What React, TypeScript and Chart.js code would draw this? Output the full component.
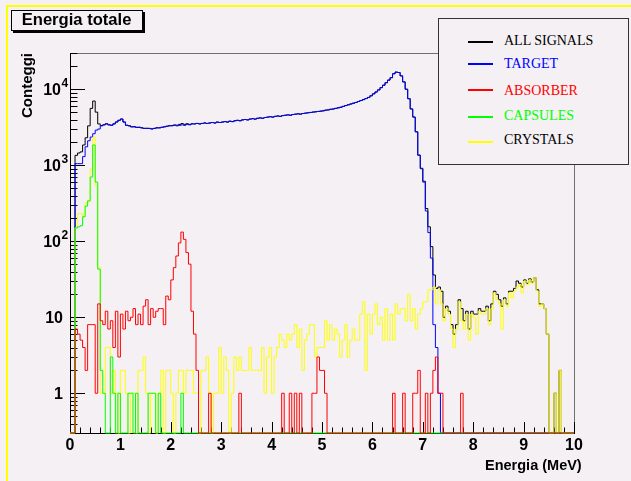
import React, { useEffect, useRef } from 'react';
import { Chart, registerables } from 'chart.js';

Chart.register(...registerables);

// ---- histogram binning (0-10 MeV, 200 bins of 0.05 MeV) ----
const BIN_WIDTH = 0.05;
const X_MIN = 0;
const X_MAX = 10;
const Y_MIN = 0.3;
const Y_MAX = 30000;

// ---- counts per bin ----
const allSignals = [
  0, 0, 1350, 1450, 1500, 1850, 2300, 3300, 5600, 7000, 5000, 3500, 3320, 3410, 3520, 3410, 3365, 3510, 3715, 3905,
  4065, 3710, 3365, 3310, 3210, 3215, 3160, 3165, 3110, 3065, 3070, 3060, 3015, 3060, 3115, 3115, 3165, 3210, 3270, 3320,
  3330, 3395, 3365, 3445, 3535, 3455, 3520, 3450, 3515, 3507, 3553, 3501, 3552, 3602, 3553, 3602, 3650, 3601, 3701, 3655,
  3701, 3753, 3702, 3800, 3751, 3853, 3902, 3854, 3952, 4002, 3952, 4054, 4102, 4052, 4152, 4202, 4154, 4251, 4303, 4354,
  4301, 4403, 4454, 4406, 4506, 4554, 4606, 4556, 4656, 4708, 4754, 4707, 4802, 4855, 4906, 4958, 5009, 5054, 5107, 5156,
  5206, 5310, 5355, 5458, 5505, 5607, 5706, 5803, 5955, 6108, 6253, 6405, 6557, 6705, 6905, 7111, 7316, 7552, 7811, 8206,
  8711, 9215, 9808, 10510, 11305, 12213, 13205, 14211, 16006, 16815, 16611, 15013, 12513, 10009, 7520, 5509, 4314, 2758, 1363, 913,
  616, 270, 155, 85, 36, 24, 25, 22, 10, 14, 12, 8, 6, 8, 17, 13, 9, 12, 7, 12,
  11, 11, 13, 12, 12, 14, 9, 15, 22, 20, 17, 14, 18, 15, 22, 22, 24, 30, 28, 25,
  31, 28, 32, 29, 33, 23, 15, 15, 13, 6, 0, 0, 1, 0, 2, 0, 0, 0, 0, 0,
];

const target = [
  0, 0, 1050, 1050, 1050, 1300, 1750, 2100, 2350, 2600, 2900, 3000, 3300, 3400, 3500, 3400, 3350, 3500, 3700, 3900,
  4050, 3700, 3350, 3300, 3200, 3200, 3150, 3150, 3100, 3050, 3050, 3050, 3000, 3050, 3100, 3100, 3150, 3200, 3250, 3300,
  3300, 3350, 3300, 3350, 3400, 3350, 3450, 3400, 3500, 3500, 3550, 3500, 3550, 3600, 3550, 3600, 3650, 3600, 3700, 3650,
  3700, 3750, 3700, 3800, 3750, 3850, 3900, 3850, 3950, 4000, 3950, 4050, 4100, 4050, 4150, 4200, 4150, 4250, 4300, 4350,
  4300, 4400, 4450, 4400, 4500, 4550, 4600, 4550, 4650, 4700, 4750, 4700, 4800, 4850, 4900, 4950, 5000, 5050, 5100, 5150,
  5200, 5300, 5350, 5450, 5500, 5600, 5700, 5800, 5950, 6100, 6250, 6400, 6550, 6700, 6900, 7100, 7300, 7550, 7800, 8200,
  8700, 9200, 9800, 10500, 11300, 12200, 13200, 14200, 16000, 16800, 16600, 15000, 12500, 10000, 7500, 5500, 4300, 2750, 1350, 900,
  600, 250, 130, 60, 8, 4, 1, 0, 0, 0, 0, 0, 0, 0, 0, 0, 0, 0, 0, 0,
  0, 0, 0, 0, 0, 0, 0, 0, 0, 0, 0, 0, 0, 0, 0, 0, 0, 0, 0, 0,
  0, 0, 0, 0, 0, 0, 0, 0, 0, 0, 0, 0, 0, 0, 0, 0, 0, 0, 0, 0,
];

const absorber = [
  0, 0, 7, 6, 5, 4, 2, 8, 8, 8, 1, 15, 9, 8, 12, 7, 9, 4, 12, 3,
  11, 7, 12, 9, 10, 13, 8, 11, 8, 14, 17, 8, 13, 10, 12, 13, 13, 8, 19, 17,
  31, 45, 64, 95, 132, 106, 71, 50, 12, 6, 2, 0, 0, 0, 0, 1, 0, 0, 0, 0,
  0, 0, 0, 0, 0, 0, 0, 1, 0, 0, 0, 0, 0, 0, 0, 0, 0, 0, 0, 0,
  0, 0, 0, 0, 1, 0, 0, 1, 0, 1, 0, 1, 0, 0, 0, 0, 1, 1, 3, 2,
  2, 1, 0, 0, 0, 0, 0, 0, 0, 0, 0, 0, 0, 0, 0, 0, 0, 0, 0, 0,
  0, 0, 0, 0, 0, 0, 0, 0, 1, 0, 0, 0, 1, 0, 0, 0, 1, 1, 2, 0,
  0, 1, 0, 1, 2, 3, 1, 1, 0, 0, 0, 0, 0, 0, 0, 1, 0, 0, 0, 0,
  0, 0, 0, 0, 0, 0, 0, 0, 0, 0, 0, 0, 0, 0, 0, 0, 0, 0, 0, 0,
  0, 0, 0, 0, 0, 0, 0, 0, 0, 0, 0, 0, 0, 0, 0, 0, 0, 0, 0, 0,
];

const capsules = [
  0, 0, 150, 155, 160, 210, 290, 340, 700, 1850, 600, 43, 2, 1, 0, 0, 3, 1, 0, 1,
  0, 0, 0, 1, 1, 0, 1, 0, 0, 0, 0, 1, 1, 1, 0, 1, 0, 0, 0, 0,
  0, 0, 0, 0, 1, 0, 0, 0, 0, 0, 0, 0, 0, 0, 0, 0, 0, 0, 0, 0,
  0, 0, 0, 0, 0, 0, 0, 0, 0, 0, 0, 0, 0, 0, 0, 0, 0, 0, 0, 0,
  0, 0, 0, 0, 0, 0, 0, 0, 0, 0, 0, 0, 0, 0, 0, 0, 0, 0, 0, 0,
  0, 0, 0, 0, 0, 0, 0, 0, 0, 0, 0, 0, 0, 0, 0, 0, 0, 0, 0, 0,
  0, 0, 0, 0, 0, 0, 0, 0, 0, 0, 0, 0, 0, 0, 0, 0, 0, 0, 0, 0,
  0, 0, 0, 0, 0, 0, 0, 0, 0, 0, 0, 0, 0, 0, 0, 0, 0, 0, 0, 0,
  0, 0, 0, 0, 0, 0, 0, 0, 0, 0, 0, 0, 0, 0, 0, 0, 0, 0, 0, 0,
  0, 0, 0, 0, 0, 0, 0, 0, 0, 0, 0, 0, 0, 0, 0, 0, 0, 0, 0, 0,
];

const crystals = [
  0, 0, 150, 230, 230, 210, 320, 330, 900, 2350, 540, 45, 1, 1, 4, 4, 1, 2, 1, 0,
  2, 2, 1, 0, 1, 1, 0, 2, 2, 3, 1, 0, 1, 1, 0, 1, 2, 0, 2, 2,
  1, 0, 1, 2, 2, 1, 2, 2, 2, 1, 1, 0, 2, 2, 3, 1, 0, 1, 1, 4,
  1, 3, 2, 0, 1, 3, 2, 3, 2, 2, 2, 4, 2, 2, 2, 2, 4, 1, 3, 4,
  1, 3, 4, 6, 5, 4, 6, 5, 6, 8, 4, 7, 2, 5, 6, 8, 8, 3, 4, 4,
  4, 9, 5, 8, 5, 7, 6, 3, 5, 8, 3, 5, 7, 5, 5, 11, 16, 2, 11, 6,
  11, 15, 8, 10, 5, 13, 5, 11, 5, 15, 11, 13, 13, 9, 20, 9, 13, 7, 11, 13,
  16, 16, 23, 23, 25, 15, 23, 15, 9, 13, 11, 7, 4, 7, 16, 9, 7, 11, 5, 11,
  10, 6, 12, 11, 11, 13, 8, 13, 21, 17, 15, 7, 17, 14, 21, 18, 22, 25, 27, 21,
  30, 27, 31, 28, 33, 22, 14, 15, 13, 6, 0, 0, 1, 0, 2, 0, 0, 0, 0, 0,
];

// ---- axis ticks ----
const xTickValues = [0, 1, 2, 3, 4, 5, 6, 7, 8, 9, 10];
const xTickLabels = ['0', '1', '2', '3', '4', '5', '6', '7', '8', '9', '10'];
const yTickValues = [1, 10, 100, 1000, 10000];
const yTickBase = ['1', '10', '10', '10', '10'];
const yTickExponent = ['', '', '2', '3', '4'];

const BG = '#f4f0f4';
const SANS = "'Liberation Sans', Arial, Helvetica, sans-serif";
const SERIF = "'Liberation Serif', 'Times New Roman', serif";

const SERIES = [
  { label: 'ALL SIGNALS', values: allSignals, color: '#000000', text: '#000000', order: 5 },
  { label: 'TARGET', values: target, color: '#0000ff', text: '#0000ff', order: 4 },
  { label: 'ABSORBER', values: absorber, color: '#ff0000', text: '#ff0000', order: 1 },
  { label: 'CAPSULES', values: capsules, color: '#00ff00', text: '#00ff00', order: 2 },
  { label: 'CRYSTALS', values: crystals, color: '#ffff00', text: '#000000', order: 3 },
];

// ROOT draws empty bins on the lower edge of a log axis
function toSteps(values: number[]) {
  const pts = values.map((v, i) => ({ x: X_MIN + i * BIN_WIDTH, y: v > 0 ? v : Y_MIN }));
  const last = values[values.length - 1];
  pts.push({ x: X_MIN + values.length * BIN_WIDTH, y: last > 0 ? last : Y_MIN });
  return pts;
}

const rootAxes = {
  id: 'rootAxes',
  beforeDatasetsDraw(chart: any) {
    const { ctx, chartArea: a } = chart;
    const xs = chart.scales.x;
    const ys = chart.scales.y;
    ctx.save();
    ctx.lineWidth = 1;
    ctx.strokeStyle = '#707070';
    ctx.strokeRect(a.left + 0.5, a.top + 0.5, a.right - a.left, a.bottom - a.top);
    ctx.strokeStyle = '#000000';
    ctx.beginPath();
    for (let e = -1; e <= 4; e++) {
      for (let m = 1; m <= 9; m++) {
        const v = m * Math.pow(10, e);
        if (v < Y_MIN || v > Y_MAX) continue;
        const y = Math.round(ys.getPixelForValue(v)) + 0.5;
        const len = m === 1 ? 15 : 7.5;
        ctx.moveTo(a.left, y);
        ctx.lineTo(a.left + len, y);
      }
    }
    for (let k = 0; k <= 50; k++) {
      const v = X_MIN + k * 0.2;
      const x = Math.round(xs.getPixelForValue(v)) + 0.5;
      const len = k % 5 === 0 ? 11 : 5.5;
      ctx.moveTo(x, a.bottom);
      ctx.lineTo(x, a.bottom - len);
    }
    ctx.moveTo(a.left + 0.5, a.top);
    ctx.lineTo(a.left + 0.5, a.bottom + 1);
    ctx.moveTo(a.left, a.bottom + 0.5);
    ctx.lineTo(a.right + 1, a.bottom + 0.5);
    ctx.stroke();

    // log-axis labels with real exponents (10^n)
    ctx.fillStyle = '#000000';
    ctx.textBaseline = 'alphabetic';
    yTickValues.forEach((v, i) => {
      const y = ys.getPixelForValue(v);
      const exp = yTickExponent[i];
      ctx.font = `bold 16px ${SANS}`;
      ctx.textAlign = 'right';
      const baseRight = exp ? a.left - 9 : a.left - 7;
      ctx.fillText(yTickBase[i], baseRight, y + 6);
      if (exp) {
        ctx.font = `bold 12px ${SANS}`;
        ctx.textAlign = 'left';
        ctx.fillText(exp, baseRight + 0.5, y - 2);
      }
    });
    ctx.restore();
  },
};

const LEGEND_ROWS = [
  { line: 41.7, top: 34.3 },
  { line: 64, top: 56.6 },
  { line: 90, top: 84.3 },
  { line: 117.3, top: 108.8 },
  { line: 141.7, top: 133.3 },
];

export default function App() {
  const ref = useRef<HTMLCanvasElement>(null);

  useEffect(() => {
    if (!ref.current) return;
    const chart = new Chart(ref.current, {
      type: 'line',
      data: {
        datasets: SERIES.map((s) => ({
          label: s.label,
          data: toSteps(s.values),
          borderColor: s.color,
          backgroundColor: s.color,
          borderWidth: 1,
          stepped: true,
          fill: false,
          pointRadius: 0,
          pointHoverRadius: 0,
          order: s.order,
          clip: 3,
        })),
      },
      options: {
        animation: false,
        responsive: false,
        devicePixelRatio: 1,
        events: [],
        layout: { padding: { left: 0, top: 53, right: 57, bottom: 0 } },
        plugins: { legend: { display: false }, tooltip: { enabled: false }, title: { display: false } },
        scales: {
          x: {
            type: 'linear',
            min: X_MIN,
            max: X_MAX,
            grid: { display: false, drawTicks: false },
            border: { display: false },
            afterBuildTicks: (s: any) => { s.ticks = xTickValues.map((v) => ({ value: v })); },
            afterFit: (s: any) => { s.height = 48; },
            ticks: {
              autoSkip: false,
              maxRotation: 0,
              padding: 3,
              color: '#000000',
              font: { family: SANS, size: 16, weight: 'bold' },
              callback: (v: any) => {
                const i = xTickValues.indexOf(Number(v));
                return i >= 0 ? xTickLabels[i] : '';
              },
            },
          },
          y: {
            type: 'logarithmic',
            min: Y_MIN,
            max: Y_MAX,
            grid: { display: false, drawTicks: false },
            border: { display: false },
            afterBuildTicks: (s: any) => { s.ticks = yTickValues.map((v) => ({ value: v })); },
            afterFit: (s: any) => { s.width = 70; },
            ticks: { display: false },
          },
        },
      },
      plugins: [rootAxes],
    } as any);
    return () => chart.destroy();
  }, []);

  return (
    <div style={{ position: 'fixed', left: 0, top: 0, width: 631, height: 481, background: BG, overflow: 'hidden' }}>
      <div style={{ position: 'absolute', left: 6, top: 5, width: 700, height: 600, borderTop: '2px solid #ffff00', borderLeft: '2px solid #ffff00' }} />
      <canvas ref={ref} width={631} height={481} style={{ position: 'absolute', left: 0, top: 0, width: 631, height: 481 }} />

      {/* title box */}
      <div style={{ position: 'absolute', left: 11, top: 10, width: 132, height: 21, boxSizing: 'border-box', border: '1px solid #000', boxShadow: '2px 2px 0 #000', background: BG }} />
      <div style={{ position: 'absolute', left: 21.7, top: 12, fontFamily: SANS, fontWeight: 'bold', fontSize: 16.6, lineHeight: '16.6px', whiteSpace: 'nowrap', color: '#000' }}>Energia totale</div>

      {/* legend */}
      <div style={{ position: 'absolute', left: 438, top: 18, width: 191, height: 147, boxSizing: 'border-box', border: '1px solid #333', background: BG }} />
      {SERIES.map((s, i) => (
        <React.Fragment key={s.label}>
          <div style={{ position: 'absolute', left: 468, top: LEGEND_ROWS[i].line - 1, width: 25, height: 2, background: s.color }} />
          <div style={{ position: 'absolute', left: 504, top: LEGEND_ROWS[i].top, fontFamily: SERIF, fontSize: 14, lineHeight: '14px', whiteSpace: 'nowrap', color: s.text }}>{s.label}</div>
        </React.Fragment>
      ))}

      {/* axis titles */}
      <div style={{ position: 'absolute', right: 49.3, top: 457.7, fontFamily: SANS, fontWeight: 'bold', fontSize: 14.5, lineHeight: '14.5px', whiteSpace: 'nowrap', color: '#000' }}>Energia (MeV)</div>
      <div style={{ position: 'absolute', left: 19.3, top: 118.3, transformOrigin: '0 0', transform: 'rotate(-90deg)', fontFamily: SANS, fontWeight: 'bold', fontSize: 15, lineHeight: '15px', whiteSpace: 'nowrap', color: '#000' }}>Conteggi</div>
    </div>
  );
}
